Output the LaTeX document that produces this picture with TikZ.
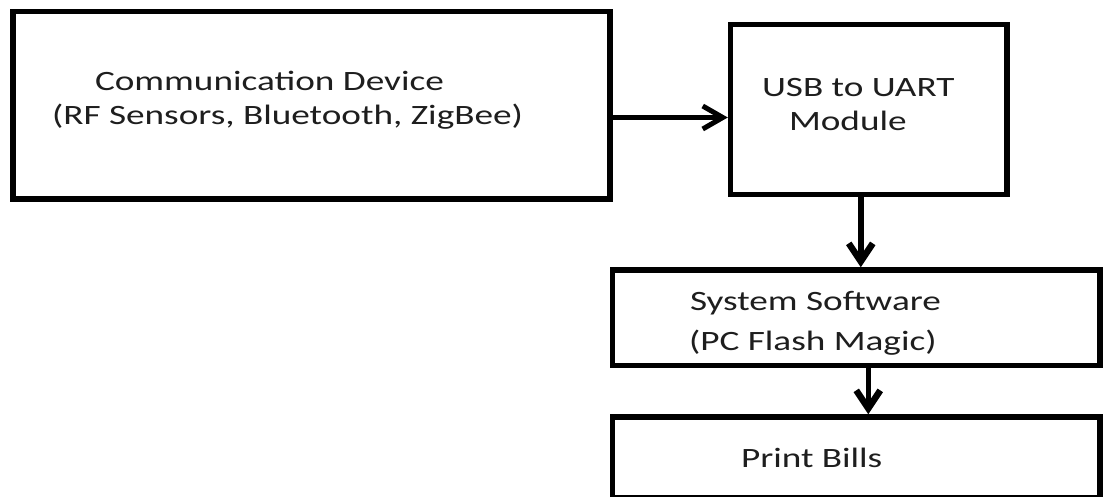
\documentclass[tikz,border=0pt]{standalone}
\usepackage{fontspec}
\setmainfont{Carlito}[FakeStretch=1.33]
\usetikzlibrary{arrows.meta}
\definecolor{inkgrey}{HTML}{1E1E1E}
\begin{document}
\begin{tikzpicture}[x=1pt,y=-1pt,
  blockbox/.style={draw=black,line width=5.5pt,rectangle,inner sep=0pt,
    outer sep=2.75pt,fill=white},
  boxtext/.style={anchor=base west,inner sep=0pt,outer sep=0pt,text=inkgrey,
    font=\fontsize{28}{34}\selectfont},
  flow/.style={draw=black,line width=5pt,
    -{Straight Barb[length=20pt,width=23pt,line width=5pt]}},
  flowdown/.style={draw=black,line width=5.5pt,
    -{Straight Barb[length=18pt,width=24pt,line width=6.5pt]}}]
\useasboundingbox[fill=white] (0,0) rectangle (1105,496);

% blocks
\node[blockbox,minimum width=597pt,minimum height=187.5pt] (comm) at (311.5,105.25) {};
\node[blockbox,minimum width=276.5pt,minimum height=170pt] (usb) at (868.75,109.5) {};
\node[blockbox,minimum width=487.5pt,minimum height=95.5pt] (soft) at (856.25,317.75) {};
\node[blockbox,minimum width=487.5pt,minimum height=81pt] (bills) at (856.25,457.5) {};

% block captions
\node[boxtext] (commA) at (95,90) {Communication Device};
\node[boxtext] (commB) at (52,124) {(RF Sensors, Bluetooth, ZigBee)};
\node[boxtext] (usbA) at (762,96) {USB to UART};
\node[boxtext] (usbB) at (789,130) {Module};
\node[boxtext] (softA) at (690,310) {System Software};
\node[boxtext] (softB) at (689,350) {(PC Flash Magic)};
\node[boxtext] (billsA) at (741,467) {Print Bills};

% connectors
\draw[flow] ([yshift=-12.25pt]comm.east) -- ([yshift=-12.25pt]comm.east -| usb.west);
\draw[flowdown] ([xshift=-8pt]usb.south) -- ([xshift=-8pt]usb.south |- soft.north);
\draw[flowdown] ([xshift=12pt]soft.south) -- ([xshift=12pt]soft.south |- bills.north);
\end{tikzpicture}
\end{document}
